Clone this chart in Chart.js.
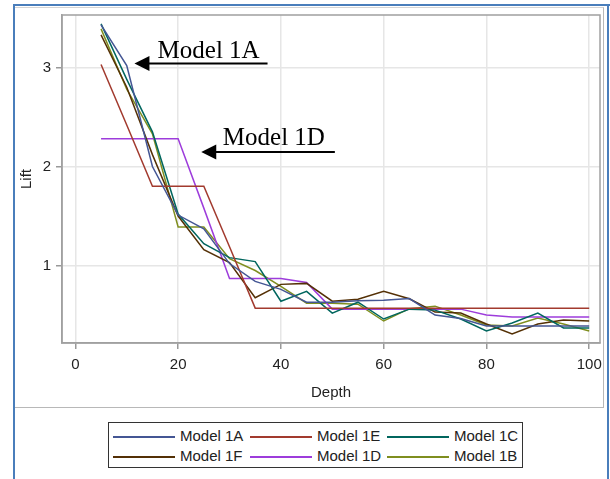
<!DOCTYPE html>
<html>
<head>
<meta charset="utf-8">
<script src="https://cdn.jsdelivr.net/npm/chart.js@4.4.0/dist/chart.umd.min.js"></script>
<style>
  html, body { margin: 0; padding: 0; background: #fff; }
  #wrap { position: relative; width: 610px; height: 479px; overflow: hidden; }
  #c { position: absolute; left: 0; top: 0; }
  .frame { position: absolute; pointer-events: none; }
  #legend { position: absolute; left: 108px; top: 422px; width: 413px; height: 44px;
            border: 1.5px solid #333; box-sizing: content-box; background: #fff;
            font-family: "Liberation Sans", Arial, sans-serif; font-size: 15px; color: #222; }
  .item { position: absolute; height: 20px; line-height: 20px; white-space: nowrap; }
  .item .ln { display: inline-block; width: 62px; height: 0; vertical-align: middle; margin-right: 5px; }
</style>
</head>
<body>
<div id="wrap">
  <canvas id="c" width="610" height="479"></canvas>
  <div class="frame" style="left:13px;top:4px;width:597px;height:2px;background:#4a7ebb"></div>
  <div class="frame" style="left:13px;top:4px;width:2px;height:475px;background:#4a7ebb"></div>
  <div class="frame" style="left:607px;top:4px;width:2px;height:475px;background:#4a7ebb"></div>
  <div class="frame" style="left:15px;top:7px;width:589px;height:401px;border-top:1px solid #d4d4d4;border-right:1.5px solid #b8b8b8;border-bottom:1.5px solid #b8b8b8;box-sizing:border-box"></div>
  <div id="legend"></div>
</div>
<script>
// ---- data ----
const depth = [5,10,15,20,25,30,35,40,45,50,55,60,65,70,75,80,85,90,95,100];
const model1A = [3.43,3.02,2.00,1.51,1.37,1.02,0.84,0.76,0.63,0.63,0.645,0.65,0.667,0.50,0.465,0.39,0.39,0.39,0.39,0.39];
const model1E = [3.03,2.42,1.80,1.80,1.80,1.19,0.57,0.57,0.57,0.57,0.57,0.57,0.57,0.57,0.57,0.57,0.57,0.57,0.57,0.57];
const model1C = [3.44,2.88,2.35,1.52,1.22,1.08,1.04,0.64,0.74,0.52,0.63,0.46,0.56,0.55,0.46,0.34,0.42,0.52,0.37,0.37];
const model1F = [3.33,2.80,2.12,1.50,1.16,1.03,0.675,0.81,0.82,0.64,0.66,0.74,0.665,0.53,0.52,0.41,0.31,0.41,0.45,0.44];
const model1D = [2.28,2.28,2.28,2.28,1.58,0.87,0.87,0.87,0.83,0.56,0.56,0.56,0.56,0.56,0.56,0.50,0.48,0.48,0.48,0.48];
const model1B = [3.39,2.78,2.33,1.39,1.39,1.07,0.95,0.79,0.62,0.62,0.61,0.44,0.565,0.59,0.50,0.40,0.39,0.47,0.41,0.34];

const seriesNames = ['Model 1A','Model 1E','Model 1C','Model 1F','Model 1D','Model 1B'];
const seriesValues = [model1A, model1E, model1C, model1F, model1D, model1B];
const seriesColors = ['#445694','#A23A2E','#01665E','#543005','#9D3CDB','#7F8E1F'];

const xTicks = [0,20,40,60,80,100];
const yTicks = [1,2,3];

// annotations in data units
const notes = [
  { text: 'Model 1A', textX: 16.0, textY: 3.10, tipX: 11.5, tailX: 37.4, arrowY: 3.04 },
  { text: 'Model 1D', textX: 28.7, textY: 2.215, tipX: 24.5, tailX: 50.5, arrowY: 2.147 }
];

const FONT = '"Liberation Sans", Arial, sans-serif';

const datasets = seriesNames.map((name, i) => ({
  label: name,
  data: depth.map((d, j) => ({ x: d, y: seriesValues[i][j] })),
  borderColor: seriesColors[i],
  backgroundColor: seriesColors[i],
  borderWidth: 1.5,
  pointRadius: 0,
  tension: 0,
  fill: false
}));

const framePlugin = {
  id: 'frame',
  afterDraw(chart) {
    const { ctx, chartArea: a } = chart;
    ctx.save();
    ctx.strokeStyle = '#a0a0a0';
    ctx.lineWidth = 1.5;
    ctx.strokeRect(a.left, a.top, a.right - a.left, a.bottom - a.top);
    ctx.restore();
  }
};

const notesPlugin = {
  id: 'notes',
  afterDraw(chart) {
    const { ctx } = chart;
    const xs = chart.scales.x, ys = chart.scales.y;
    ctx.save();
    notes.forEach(n => {
      const tx = xs.getPixelForValue(n.textX), ty = ys.getPixelForValue(n.textY);
      ctx.fillStyle = '#000';
      ctx.font = '25px "Liberation Serif", "Times New Roman", serif';
      ctx.textBaseline = 'alphabetic';
      ctx.textAlign = 'left';
      ctx.fillText(n.text, tx, ty);
      const ax = xs.getPixelForValue(n.tipX), bx = xs.getPixelForValue(n.tailX), ay = ys.getPixelForValue(n.arrowY);
      ctx.strokeStyle = '#000';
      ctx.lineWidth = 2;
      ctx.beginPath();
      ctx.moveTo(ax + 12, ay);
      ctx.lineTo(bx, ay);
      ctx.stroke();
      ctx.beginPath();
      ctx.moveTo(ax, ay);
      ctx.lineTo(ax + 15, ay - 7.5);
      ctx.lineTo(ax + 15, ay + 7.5);
      ctx.closePath();
      ctx.fill();
    });
    ctx.restore();
  }
};

const bgPlugin = {
  id: 'bg',
  beforeDraw(chart) {
    const { ctx } = chart;
    ctx.save();
    ctx.fillStyle = '#fff';
    ctx.fillRect(0, 0, chart.width, chart.height);
    ctx.restore();
  }
};

new Chart(document.getElementById('c'), {
  type: 'line',
  data: { datasets },
  options: {
    responsive: false,
    animation: false,
    devicePixelRatio: 1,
    layout: { padding: { left: 0, right: 10, top: 15, bottom: 71 } },
    plugins: { legend: { display: false }, tooltip: { enabled: false } },
    scales: {
      x: {
        type: 'linear',
        min: -2.6, max: 102.1,
        afterBuildTicks: s => { s.ticks = xTicks.map(v => ({ value: v })); },
        afterFit: s => { s.height = 65; },
        grid: { color: '#e6e6e6', lineWidth: 1.5, tickColor: '#999', tickLength: 6, drawTicks: true },
        border: { display: true, color: '#a0a0a0', width: 1.5 },
        ticks: { padding: 7, maxRotation: 0, font: { family: FONT, size: 15 }, color: '#222' },
        title: { display: true, text: 'Depth', padding: { top: 0, bottom: 6 }, font: { family: FONT, size: 15 }, color: '#222' }
      },
      y: {
        type: 'linear',
        min: 0.218, max: 3.53,
        afterBuildTicks: s => { s.ticks = yTicks.map(v => ({ value: v })); },
        afterFit: s => { s.width = 62; },
        grid: { color: '#e6e6e6', lineWidth: 1.5, tickColor: '#999', tickLength: 6, drawTicks: true },
        border: { display: true, color: '#a0a0a0', width: 1.5 },
        ticks: { padding: 5, font: { family: FONT, size: 15 }, color: '#222' },
        title: { display: true, text: 'Lift', padding: { top: 18, bottom: 0 }, font: { family: FONT, size: 15 }, color: '#222' }
      }
    }
  },
  plugins: [bgPlugin, framePlugin, notesPlugin]
});

// HTML legend built from the series arrays
const leg = document.getElementById('legend');
seriesNames.forEach((name, i) => {
  const col = i % 3, row = Math.floor(i / 3);
  const it = document.createElement('div');
  it.className = 'item';
  it.style.left = (4 + col * 137) + 'px';
  it.style.top = (3 + row * 20) + 'px';
  const ln = document.createElement('span');
  ln.className = 'ln';
  ln.style.borderTop = '2px solid ' + seriesColors[i];
  it.appendChild(ln);
  it.appendChild(document.createTextNode(name));
  leg.appendChild(it);
});
</script>
</body>
</html>
